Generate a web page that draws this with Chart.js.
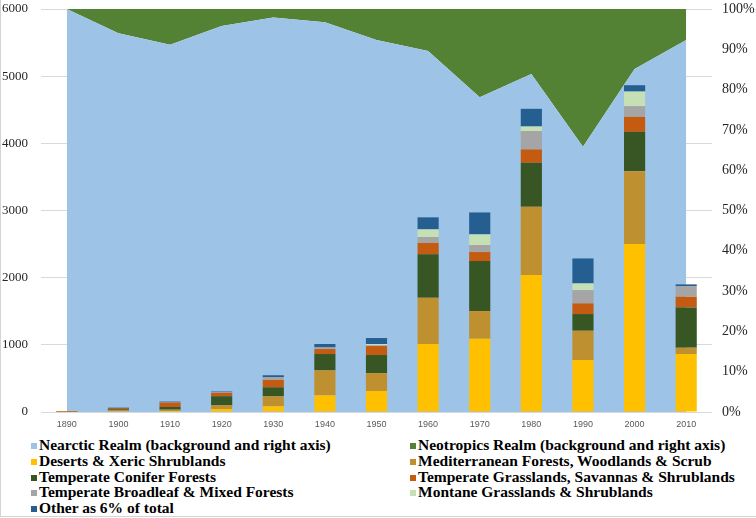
<!DOCTYPE html>
<html>
<head>
<meta charset="utf-8">
<title>Nearctic and Neotropics descriptions by decade</title>
<script src="https://cdn.jsdelivr.net/npm/chart.js@4/dist/chart.umd.min.js"></script>
<style>
    html, body { margin: 0; padding: 0; background: #fff; }
    #wrap { position: relative; width: 756px; height: 518px; overflow: hidden; }
    #frame { position: absolute; left: 0; top: 0; width: 755px; height: 516px;
             border-left: 1px solid #d4d4d4; border-bottom: 1px solid #d4d4d4; pointer-events: none; }
    #chartBox { position: absolute; left: 0; top: 0; width: 756px; height: 436px; }
    #legend { position: absolute; left: 0; top: 437px; width: 756px;
              font: bold 15.5px "Liberation Serif", "Times New Roman", serif; color: #000; }
    .leg-item { position: absolute; height: 16px; line-height: 16px; white-space: nowrap; }
    .leg-box { display: inline-block; width: 6px; height: 6px; margin-right: 2px; vertical-align: 1px; }
</style>
</head>
<body>
<div id="wrap">
    <div id="chartBox"><canvas id="decadeChart" width="756" height="436"></canvas></div>
    <div id="legend"></div>
    <div id="frame"></div>
</div>
<script>
// Decades on the x axis
const decades = ["1890", "1900", "1910", "1920", "1930", "1940", "1950", "1960", "1970", "1980", "1990", "2000", "2010"];

// Background areas, share of species by realm (right axis, %)
const nearcticShare   = [100, 94, 91.1, 95.8, 97.9, 96.7, 92.3, 89.6, 78.1, 83.9, 65.8, 85.1, 92.3];
const neotropicsShare = [0, 6, 8.9, 4.2, 2.1, 3.3, 7.7, 10.4, 21.9, 16.1, 34.2, 14.9, 7.7];

// Stacked bars, counts by biome (left axis)
const desertsXeric      = [0, 10, 15, 45, 85, 248, 312, 1012, 1091, 2039, 774, 2500, 863];
const mediterranean     = [3, 15, 20, 55, 149, 372, 268, 690, 412, 1017, 436, 1086, 94];
const temperateConifer  = [0, 15, 40, 135, 134, 243, 268, 645, 744, 655, 248, 585, 600];
const temperateGrass    = [12, 20, 65, 50, 109, 74, 134, 169, 134, 198, 159, 223, 159];
const temperateBroadleaf = [0, 2, 5, 10, 40, 25, 10, 89, 104, 273, 198, 159, 159];
const montaneGrass      = [0, 0, 0, 0, 0, 0, 20, 114, 159, 69, 99, 218, 0];
const otherSixPct       = [0, 5, 10, 10, 30, 50, 89, 179, 327, 263, 372, 94, 25];

const leftTicks = [0, 1000, 2000, 3000, 4000, 5000, 6000];

const serifFont = "'Liberation Serif', 'Times New Roman', serif";

// Area series drawn behind the bars
function areaSet(label, values, color, fill) {
    return {
        type: "line",
        label: label,
        data: values,
        yAxisID: "y2",
        backgroundColor: color,
        borderColor: "rgba(0,0,0,0)",
        borderWidth: 0,
        pointRadius: 0,
        tension: 0,
        fill: fill,
        order: 2
    };
}

function barSet(label, values, color) {
    return {
        type: "bar",
        label: label,
        data: values,
        yAxisID: "y",
        backgroundColor: color,
        borderWidth: 0,
        barPercentage: 0.41,
        categoryPercentage: 1,
        order: 1
    };
}

// keep the plot top at 9px, whatever the label heights say
function fixVertical(width) {
    return scale => {
        scale.width = width;
        scale.paddingTop = 9;
        scale.paddingBottom = 0;
    };
}

const datasets = [
    areaSet("Nearctic Realm (background and right axis)", nearcticShare, "#9dc3e6", "origin"),
    areaSet("Neotropics Realm (background and right axis)", neotropicsShare, "#548235", "-1"),
    barSet("Deserts & Xeric Shrublands", desertsXeric, "#ffc000"),
    barSet("Mediterranean Forests, Woodlands & Scrub", mediterranean, "#bf9030"),
    barSet("Temperate Conifer Forests", temperateConifer, "#375623"),
    barSet("Temperate Grasslands, Savannas & Shrublands", temperateGrass, "#c55a11"),
    barSet("Temperate Broadleaf & Mixed Forests", temperateBroadleaf, "#a5a5a5"),
    barSet("Montane Grasslands & Shrublands", montaneGrass, "#c5e0b4"),
    barSet("Other as 6% of total", otherSixPct, "#255e91")
];

new Chart(document.getElementById("decadeChart"), {
    type: "bar",
    data: { labels: decades, datasets: datasets },
    options: {
        responsive: false,
        animation: false,
        layout: { padding: 0 },
        plugins: { legend: { display: false }, tooltip: { enabled: false } },
        scales: {
            x: {
                stacked: true,
                offset: true,
                grid: { display: false, drawTicks: false },
                border: { display: false },
                ticks: { color: "#595959", font: { family: "'Liberation Sans', Arial, sans-serif", size: 9 }, padding: 7, maxRotation: 0 },
                afterFit: scale => { scale.height = 24; scale.paddingLeft = 0; scale.paddingRight = 0; }
            },
            y: {
                position: "left",
                stacked: true,
                min: 0,
                max: 6000,
                afterBuildTicks: scale => { scale.ticks = leftTicks.map(v => ({ value: v })); },
                grid: { color: "#d9d9d9", drawTicks: false },
                border: { display: false },
                ticks: { color: "#262626", font: { family: serifFont, size: 13 }, padding: 13,
                         callback: v => String(v) },
                afterFit: fixVertical(41)
            },
            y2: {
                position: "right",
                stacked: true,
                min: 0,
                max: 100,
                ticks: { stepSize: 10, color: "#262626", font: { family: serifFont, size: 14 }, padding: 10,
                         callback: v => v + "%" },
                grid: { display: false, drawTicks: false },
                border: { display: false },
                afterFit: fixVertical(44)
            }
        }
    }
});

// Legend in two columns, like the original
const legend = document.getElementById("legend");
datasets.forEach((ds, i) => {
    const item = document.createElement("div");
    item.className = "leg-item";
    item.style.left = (i % 2 === 0 ? 31 : 410) + "px";
    item.style.top = (Math.floor(i / 2) * 15.8) + "px";
    item.innerHTML = `<span class="leg-box" style="background:${ds.backgroundColor}"></span>`;
    item.appendChild(document.createTextNode(ds.label));
    legend.appendChild(item);
});
</script>
</body>
</html>
